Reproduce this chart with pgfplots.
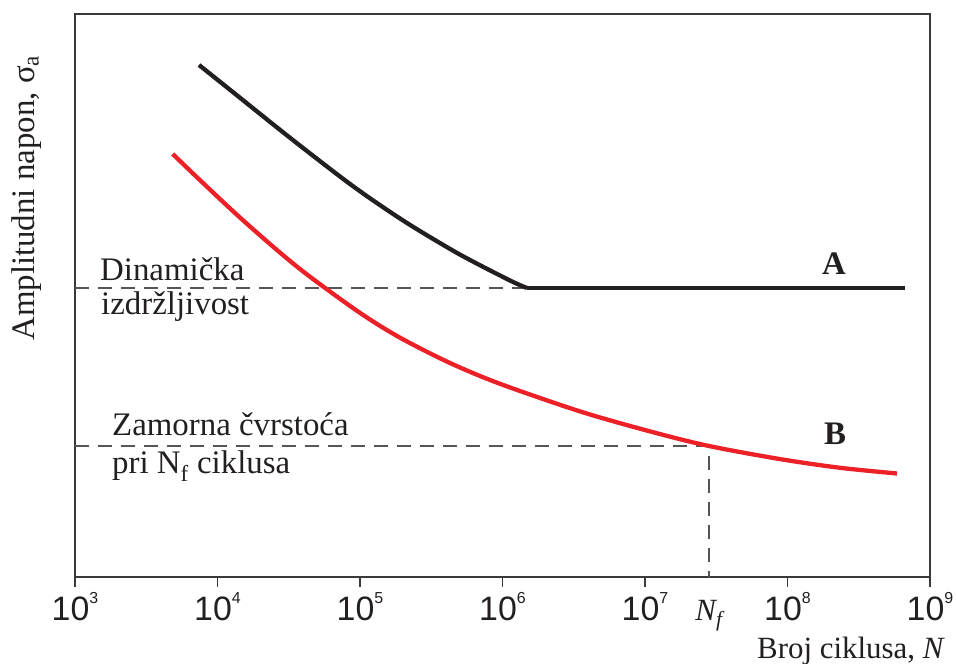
\documentclass[border=0pt]{standalone}
\usepackage{pgfplots}
\pgfplotsset{compat=1.18}
\usepackage{fontspec}
\setmainfont{Liberation Serif}
\newfontfamily\arial{Liberation Sans}
\definecolor{cblack}{HTML}{231F20}
\definecolor{cred}{HTML}{EC2027}
\definecolor{cdash}{HTML}{555555}
\definecolor{caxis}{HTML}{3A3A3A}
\definecolor{ctext}{HTML}{231F20}
\newcommand\tl[1]{10\raisebox{17bp}{\fontsize{16}{16}\selectfont #1}}
\begin{document}
\begin{tikzpicture}
\begin{axis}[at={(0,0)}, anchor=south west,
  width=855bp, height=563bp, scale only axis,
  xmode=log, log basis x=10,
  xmin=1e3, xmax=1e9, ymin=0, ymax=563,
  xtick={1e3,1e4,1e5,1e6,1e7,1e8,1e9},
  xticklabels={\tl{3},\tl{4},\tl{5},\tl{6},\tl{7},\tl{8},\tl{9}},
  xminorticks=false, ytick=\empty,
  tick align=outside, xtick pos=lower,
  major tick length=10bp,
  every tick/.style={caxis, line width=1.3bp},
  axis line style={caxis, line width=1.5bp},
  xticklabel style={font=\arial\fontsize{34}{34}\selectfont, anchor=base, yshift=-33bp, text=ctext, inner sep=0pt},
  clip=false,
]
% dashed guide lines
\addplot[cdash, line width=1.6bp, dash pattern=on 14bp off 9bp] coordinates {(1e3,289) (1.486e6,289)};
\addplot[cdash, line width=1.6bp, dash pattern=on 14bp off 9bp] coordinates {(1e3,131) (2.812e7,131) (2.812e7,0)};
% curve A
\addplot[cblack, line width=4.3bp, smooth, tension=0.5] coordinates {
 (7418,512) (14384,479.2) (32280,439.2) (72370,400.5) (117560,378.7) (224300,352.1) (503200,322.4) (1.129e6,296.5) (1.486e6,289)};
\addplot[cblack, line width=4.3bp] coordinates {(1.486e6,289) (6.677e8,289)};
% curve B
\addplot[cred, line width=4.3bp, smooth, tension=0.5] coordinates {
 (4849,423) (7539,396.8) (14384,359.4) (27450,324.4) (44590,300.2) (100000,264.1) (190900,239.3) (428100,214) (960500,193.2) (3.499e6,165.6) (1.084e7,145.6) (2.812e7,131) (8.859e7,117.9) (2.336e8,109.2) (5.867e8,103.5)};
% texts
\node[anchor=base west, inner sep=0pt, text=ctext, font=\fontsize{33}{33}\selectfont] at (rel axis cs:0.0292,0.5275) {Dinamička};
\node[anchor=base west, inner sep=0pt, text=ctext, font=\fontsize{33}{33}\selectfont] at (rel axis cs:0.0304,0.4654) {izdržljivost};
\node[anchor=base west, inner sep=0pt, text=ctext, font=\fontsize{33}{33}\selectfont] at (rel axis cs:0.0433,0.2522) {Zamorna čvrstoća};
\node[anchor=base west, inner sep=0pt, text=ctext, font=\fontsize{33}{33}\selectfont] at (rel axis cs:0.0433,0.1830) {pri N\textsubscript{f} ciklusa};
\node[anchor=base, inner sep=0pt, text=ctext, font=\fontsize{33}{33}\selectfont\bfseries] at (rel axis cs:0.8877,0.5364) {A};
\node[anchor=base, inner sep=0pt, text=ctext, font=\fontsize{33}{33}\selectfont\bfseries] at (rel axis cs:0.8889,0.2345) {B};
\node[anchor=base, inner sep=0pt, text=ctext, font=\fontsize{31}{31}\selectfont\itshape, yshift=-43bp] at (axis cs:2.812e7,0) {N\textsubscript{f}};
\node[anchor=base east, inner sep=0pt, text=ctext, font=\fontsize{31}{31}\selectfont, xshift=15bp, yshift=-81bp] at (rel axis cs:1,0) {Broj ciklusa, \textit{N}};
\node[anchor=center, rotate=90, inner sep=0pt, text=ctext, font=\fontsize{33}{33}\selectfont] at (rel axis cs:-0.0561,0.673) {Amplitudni napon, σ\textsubscript{a}};
\end{axis}
\pgfresetboundingbox
\path[use as bounding box] (-75bp,-87bp) rectangle (881bp,577bp);
\end{tikzpicture}
\end{document}
